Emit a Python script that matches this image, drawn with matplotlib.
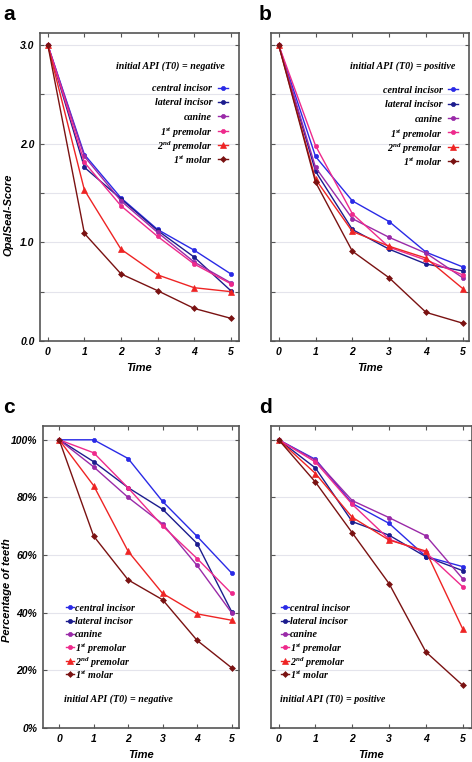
import numpy as np
import matplotlib
matplotlib.use("Agg")
import matplotlib.pyplot as plt
from matplotlib.ticker import MultipleLocator

plt.rcParams['mathtext.fontset'] = 'custom'
plt.rcParams['mathtext.rm'] = 'Liberation Serif:bold:italic'
plt.rcParams['mathtext.it'] = 'Liberation Serif:bold:italic'
plt.rcParams['mathtext.bf'] = 'Liberation Serif:bold:italic'

times = [0, 1, 2, 3, 4, 5]
teeth = ['central incisor', 'lateral incisor', 'canine',
         r'1$^{st}$ premolar', r'2$^{nd}$ premolar', r'1$^{st}$ molar']

# a: OpalSeal-Score, initial API negative
a_central = [3.0, 1.89, 1.45, 1.13, 0.92, 0.68]
a_lateral = [3.0, 1.76, 1.44, 1.12, 0.85, 0.51]
a_canine = [3.0, 1.87, 1.42, 1.10, 0.80, 0.59]
a_pm1 = [3.0, 1.81, 1.37, 1.06, 0.78, 0.58]
a_pm2 = [3.0, 1.53, 0.93, 0.67, 0.54, 0.50]
a_molar = [3.0, 1.09, 0.68, 0.51, 0.33, 0.23]

# b: OpalSeal-Score, initial API positive
b_central = [3.0, 1.87, 1.42, 1.21, 0.90, 0.75]
b_lateral = [3.0, 1.72, 1.13, 0.93, 0.78, 0.71]
b_canine = [3.0, 1.76, 1.24, 1.05, 0.89, 0.64]
b_pm1 = [3.0, 1.98, 1.29, 0.95, 0.82, 0.67]
b_pm2 = [3.0, 1.64, 1.11, 0.96, 0.84, 0.53]
b_molar = [3.0, 1.61, 0.91, 0.64, 0.29, 0.18]

# c: percentage of teeth, initial API negative
c_central = [100, 100, 93.5, 78.6, 66.5, 53.8]
c_lateral = [100, 92.4, 83.4, 75.9, 64.0, 40.4]
c_canine = [100, 90.6, 80.0, 70.8, 56.4, 40.0]
c_pm1 = [100, 95.5, 83.3, 70.1, 58.8, 46.7]
c_pm2 = [100, 84.1, 61.3, 46.7, 39.6, 37.4]
c_molar = [100, 66.6, 51.4, 44.5, 30.4, 20.9]

# d: percentage of teeth, initial API positive
d_central = [100, 93.2, 77.9, 71.0, 59.5, 56.0]
d_lateral = [100, 90.2, 71.6, 66.9, 59.4, 54.6]
d_canine = [100, 92.9, 78.9, 73.0, 66.7, 51.8]
d_pm1 = [100, 92.3, 77.6, 65.5, 60.9, 49.0]
d_pm2 = [100, 88.3, 73.1, 65.2, 61.4, 34.4]
d_molar = [100, 85.3, 67.7, 50.1, 26.4, 14.8]

colors = ['#2a2ae6', '#1c1c8e', '#9a2aa8', '#ee2a8c', '#ee2424', '#7a1212']
markers = ['o', 'o', 'o', 'o', '^', 'D']
msizes = [3.0, 3.0, 3.0, 3.0, 4.2, 3.0]

tick_font = dict(family='Liberation Sans', weight='bold', style='italic', size=7.5)
label_font = dict(family='Liberation Sans', weight='bold', style='italic', size=8)
leg_font = dict(family='Liberation Serif', weight='bold', style='italic', size=7.2)

fig = plt.figure(figsize=(4.72, 7.62), dpi=100)

# rect, series, kind, api, xlim, letter
panels = [
    ([0.085, 0.5525, 0.421, 0.404], [a_central, a_lateral, a_canine, a_pm1, a_pm2, a_molar],
     'score', 'negative', (-0.21, 5.22), 'a'),
    ([0.574, 0.5525, 0.420, 0.404], [b_central, b_lateral, b_canine, b_pm1, b_pm2, b_molar],
     'score', 'positive', (-0.21, 5.17), 'b'),
    ([0.091, 0.0446, 0.415, 0.3964], [c_central, c_lateral, c_canine, c_pm1, c_pm2, c_molar],
     'pct', 'negative', (-0.47, 5.21), 'c'),
    ([0.574, 0.0446, 0.425, 0.3964], [d_central, d_lateral, d_canine, d_pm1, d_pm2, d_molar],
     'pct', 'positive', (-0.21, 5.24), 'd'),
]

for rect, series, kind, api, xlim, letter in panels:
    ax = fig.add_axes(rect)
    for vals, name, col, mk, ms in zip(series, teeth, colors, markers, msizes):
        ax.plot(times, vals, color=col, marker=mk, markersize=ms, linewidth=1.0,
                markeredgewidth=0.5)

    ax.set_xlim(*xlim)
    ax.set_xticks(times)
    ax.set_xticklabels([str(t) for t in times], fontdict=tick_font)

    if kind == 'score':
        ax.set_ylim(0, 3.12)
        ax.set_yticks([0, 1, 2, 3])
        ax.yaxis.set_minor_locator(MultipleLocator(0.5))
        ax.set_yticklabels(['0.0', '1.0', '2.0', '3.0'] if letter == 'a' else [], fontdict=tick_font)
        ax.grid(axis='y', which='both', color='#e4e4ec', linewidth=0.8)
    else:
        ax.set_ylim(0, 104.8)
        ax.set_yticks([0, 20, 40, 60, 80, 100])
        ax.set_yticklabels(['0%', '20%', '40%', '60%', '80%', '100%'] if letter == 'c' else [],
                           fontdict=tick_font)
        ax.grid(axis='y', color='#e4e4ec', linewidth=0.8)
    ax.set_axisbelow(True)

    ax.tick_params(which='both', direction='in', top=True, right=True, length=3,
                   color='#555555', width=0.8, pad=4)
    for sp in ax.spines.values():
        sp.set_color('#555555')
        sp.set_linewidth(1.2)

    ax.set_xlabel('Time', **label_font)
    ax.xaxis.set_label_coords(0.5, -0.07 if kind == 'score' else -0.074)

    if letter == 'a':
        ax.set_ylabel('OpalSeal-Score', **label_font)
        ax.yaxis.set_label_coords(-0.136, 0.41)
    if letter == 'c':
        ax.set_ylabel('Percentage of teeth', **label_font)
        ax.yaxis.set_label_coords(-0.158, 0.457)

    # hand-placed legend (axes fraction)
    api_text = 'initial API (T0) = ' + api
    if kind == 'score':
        y0, dy = 0.823, 0.0465
        if letter == 'b':
            y0 -= 0.006
        hx = (0.895, 0.92, 0.945)
        tx, tha = 0.865, 'right'
        ax.text(0.93, 0.897, api_text, transform=ax.transAxes, ha='right',
                va='center_baseline', **leg_font)
    else:
        y0, dy = 0.400, 0.0442
        if letter == 'c':
            hx = (0.118, 0.138, 0.158)
            tx = 0.163
            ax.text(0.107, 0.099, api_text, transform=ax.transAxes, ha='left',
                    va='center_baseline', **leg_font)
        else:
            hx = (0.05, 0.07, 0.09)
            tx = 0.093
            ax.text(0.045, 0.100, api_text, transform=ax.transAxes, ha='left',
                    va='center_baseline', **leg_font)
        tha = 'left'
    for i, (name, col, mk, ms) in enumerate(zip(teeth, colors, markers, msizes)):
        y = y0 - i * dy
        ax.plot(hx, [y, y, y], transform=ax.transAxes, color=col, marker=mk,
                markersize=ms, markevery=[1], linewidth=1.0, markeredgewidth=0.5,
                clip_on=False)
        ax.text(tx, y, name, transform=ax.transAxes, ha=tha, va='center_baseline',
                **leg_font)

    fig.text(0.007 if letter in 'ac' else 0.548, rect[1] + rect[3] + 0.012, letter,
             family='Liberation Sans', weight='bold', size=15, va='bottom', ha='left')

fig.savefig('out.png', dpi=100)
